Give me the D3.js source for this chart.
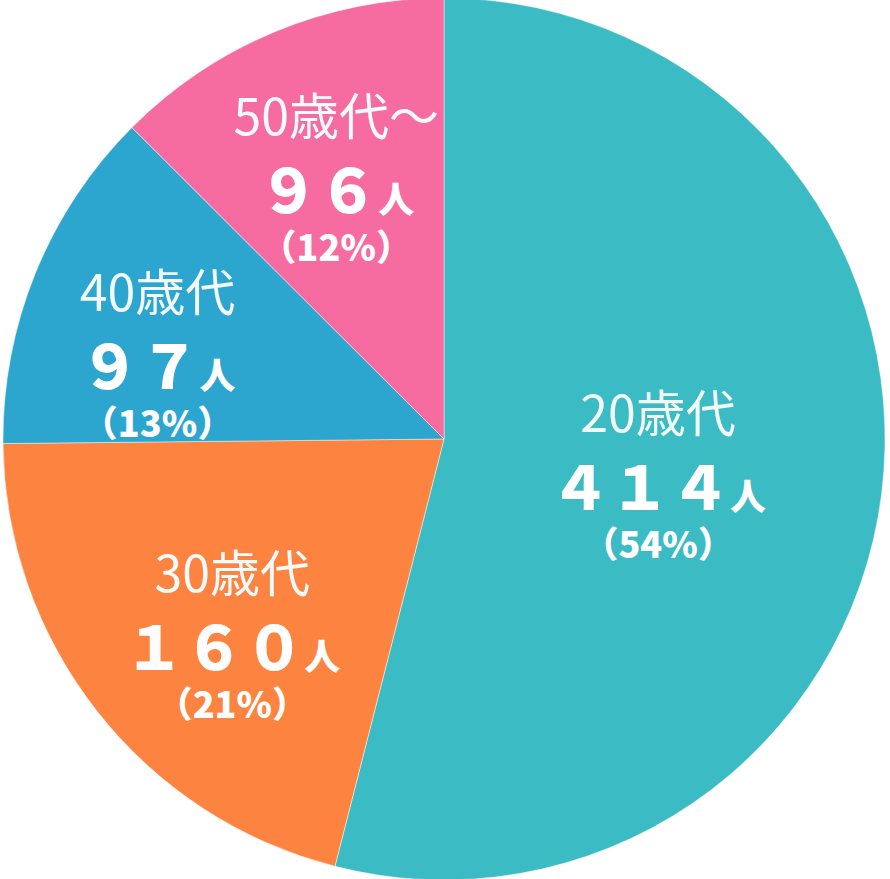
<!DOCTYPE html>
<html>
<head>
<meta charset="utf-8">
<script src="https://cdn.jsdelivr.net/npm/d3@7"></script>
<style>
  body { margin: 0; background: #fff; }
  text { font-family: "Noto Sans CJK JP", "Noto Sans", sans-serif; }
</style>
</head>
<body>
<script>
// data
var categories = ['20歳代', '30歳代', '40歳代', '50歳代〜'];
var counts = [414, 160, 97, 96];
var countLabels = ['４１４', '１６０', '９７', '９６'];
var percents = ['54%', '21%', '13%', '12%'];
var colors = ['#3bbbc3', '#fd8440', '#2ca6cf', '#f66ca0'];

var width = 890,
    height = 879;

var cx = 444, cy = 439, radius = 441;

// small nudges from the label centroid, per slice
var nudges = [[-34, -38], [-15, -1], [-55, -34], [-12, -73]];

var svg = d3.select('body')
  .append('svg')
  .attr('width', width)
  .attr('height', height);

var g = svg.append('g').attr('transform', 'translate(' + cx + ',' + cy + ')');

var pie = d3.pie().sort(null).value(function(d) { return d; });
var arcs = pie(counts);

var arc = d3.arc().innerRadius(0).outerRadius(radius);
var labelArc = d3.arc().innerRadius(250).outerRadius(250);

g.selectAll('path')
  .data(arcs)
  .enter()
  .append('path')
  .attr('d', arc)
  .attr('fill', function(d, i) { return colors[i]; })
  .attr('stroke', 'rgba(255,255,255,0.45)')
  .attr('stroke-width', 1);

var labels = g.selectAll('g.label')
  .data(arcs)
  .enter()
  .append('g')
  .attr('class', 'label')
  .attr('transform', function(d, i) {
    var c = labelArc.centroid(d);
    return 'translate(' + (c[0] + nudges[i][0]) + ',' + (c[1] + nudges[i][1]) + ')';
  });

labels.append('text')
  .attr('text-anchor', 'middle')
  .attr('fill', '#f2fafa')
  .attr('font-size', 50)
  .attr('font-weight', 400)
  .text(function(d, i) { return categories[i]; });

var num = labels.append('text')
  .attr('text-anchor', 'middle')
  .attr('y', 78)
  .attr('fill', '#fff')
  .attr('font-weight', 900);
num.append('tspan')
  .attr('font-size', 60)
  .text(function(d, i) { return countLabels[i]; });
num.append('tspan')
  .attr('font-size', 36)
  .text('人');

labels.append('text')
  .attr('text-anchor', 'middle')
  .attr('y', 126)
  .attr('fill', '#fff')
  .attr('font-size', 36)
  .attr('font-weight', 900)
  .text(function(d, i) { return '（' + percents[i] + '）'; });
</script>
</body>
</html>
